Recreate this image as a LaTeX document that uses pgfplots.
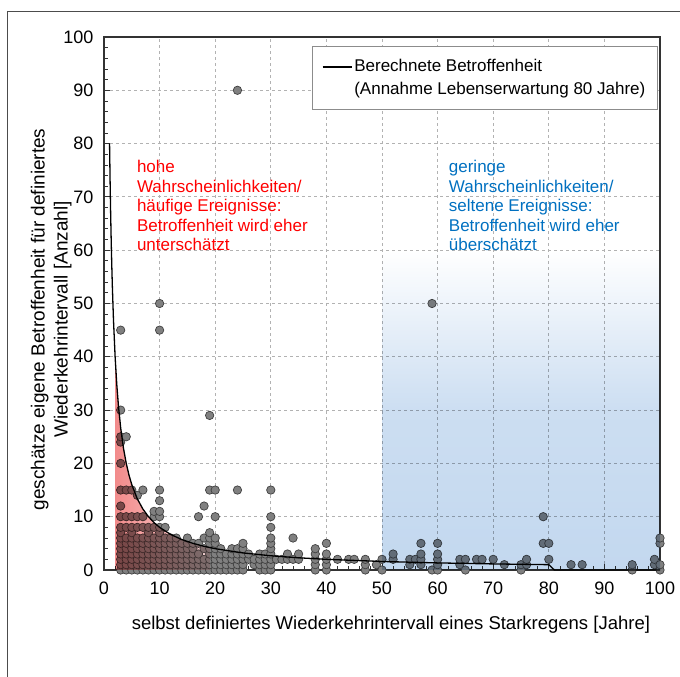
\documentclass[border=0pt]{standalone}
\usepackage{fontspec}
\setmainfont{Liberation Sans}
\usepackage{pgfplots}
\usepackage{pgfplotstable}
\pgfplotsset{compat=1.18}

\definecolor{bluefill}{HTML}{C3D8EF}
\definecolor{pinkL}{HTML}{F28B8B}
\definecolor{pinkR}{HTML}{FCDCDC}
\definecolor{ptgray}{HTML}{808080}
\definecolor{anred}{HTML}{FF0000}
\definecolor{anblue}{HTML}{0070C0}

% Befragung: selbst definiertes Intervall vs. geschaetzte Betroffenheit
\pgfplotstableread{
x y
3 0
3 1
3 2
3 3
3 4
3 5
3 6
3 7
3 8
3 10
3 12
3 15
3 20
3 24
3 25
3 30
3 45
4 0
4 1
4 2
4 3
4 4
4 5
4 6
4 8
4 10
4 15
4 25
5 0
5 1
5 2
5 3
5 4
5 5
5 6
5 7
5 8
5 10
5 15
6 0
6 1
6 2
6 3
6 4
6 5
6 6
6 8
6 10
6 14
7 0
7 1
7 2
7 3
7 4
7 5
7 6
7 8
7 10
7 15
8 0
8 1
8 2
8 3
8 4
8 5
8 6
8 7
8 8
9 0
9 1
9 2
9 3
9 4
9 5
9 6
9 8
9 10
9 11
10 0
10 1
10 2
10 3
10 4
10 5
10 6
10 7
10 8
10 10
10 11
10 13
10 15
10 45
10 50
11 0
11 1
11 2
11 3
11 4
11 5
11 6
11 8
12 0
12 1
12 2
12 3
12 4
12 5
12 6
13 0
13 1
13 2
13 3
13 4
13 5
13 6
14 0
14 1
14 2
14 3
14 4
14 5
15 0
15 1
15 2
15 3
15 4
15 5
15 6
16 0
16 1
16 2
16 3
16 4
16 5
17 0
17 1
17 2
17 3
17 5
17 10
18 0
18 1
18 2
18 4
18 6
18 12
19 0
19 1
19 2
19 3
19 4
19 5
19 6
19 7
19 15
19 29
20 0
20 1
20 2
20 3
20 4
20 5
20 6
20 10
20 15
21 0
21 1
21 2
21 3
21 4
22 0
22 1
22 2
22 3
23 0
23 1
23 2
23 3
23 4
24 0
24 1
24 2
24 3
24 4
24 15
24 90
25 0
25 1
25 2
25 3
25 4
25 5
26 2
26 3
27 1
27 2
28 0
28 1
28 2
28 3
29 0
29 1
29 2
29 3
30 0
30 1
30 2
30 3
30 4
30 5
30 6
30 8
30 10
30 15
31 2
32 2
33 2
33 3
34 2
34 6
35 2
35 3
38 0
38 1
38 2
38 3
38 4
40 0
40 1
40 2
40 3
40 5
42 2
44 2
45 2
47 0
47 1
47 2
49 1
50 0
50 2
52 2
52 3
55 1
55 2
56 2
57 1
57 2
57 3
57 5
59 0
59 50
60 0
60 1
60 2
60 3
60 5
64 1
64 2
65 0
65 2
67 2
68 2
70 2
72 1
75 0
75 1
76 1
76 2
79 5
79 10
80 2
80 5
84 1
86 1
95 0
95 1
99 1
99 2
100 0
100 1
100 5
100 6
}\pts

\begin{document}
\begin{tikzpicture}
\path[use as bounding box] (-104pt,-107pt) rectangle (576pt,570pt);
\begin{axis}[
    at={(0pt,0pt)}, anchor=south west,
    width=556pt, height=533pt, scale only axis,
    xmin=0, xmax=100, ymin=0, ymax=100,
    clip=false, clip marker paths=true,
    xtick={0,10,...,100}, ytick={0,10,...,100},
    minor x tick num=4, minor y tick num=4,
    tick align=inside, xtick pos=bottom, ytick pos=left,
    major tick length=6pt, minor tick length=4pt,
    grid=major,
    major grid style={dash pattern=on 3pt off 3pt, black!30, line width=0.8pt},
    axis line style={black!80, line width=1.1pt},
    tick style={black!80, line width=0.8pt},
    ticklabel style={font=\fontsize{18}{21}\selectfont},
    xticklabel style={yshift=-8pt},
    yticklabel style={xshift=-7pt},
    /pgf/number format/assume math mode=true,
    xlabel={selbst definiertes Wiederkehrintervall eines Starkregens [Jahre]},
    xlabel style={font=\fontsize{18.5}{22}\selectfont, at={(axis description cs:0.516,-0.103)}, anchor=center},
    ylabel={geschätze eigene Betroffenheit für definiertes\\Wiederkehrintervall [Anzahl]},
    ylabel style={font=\fontsize{19}{23}\selectfont, align=center, at={(axis description cs:-0.095,0.47)}, anchor=center},
    legend cell align=left,
    legend style={at={(0.996,0.983)}, anchor=north east, draw=black!45, line width=0.8pt,
        font=\fontsize{17}{23}\selectfont, nodes={align=left}, inner xsep=10pt, inner ysep=11pt},
    legend image code/.code={\draw[#1] (0pt,11pt) -- (29pt,11pt);},
]
\addplot[only marks, mark=*, mark size=4.2pt,
    mark options={fill=ptgray, draw=black!75, line width=0.7pt}, forget plot]
    table[x=x, y=y] {\pts};

\addplot[draw=none, left color=pinkL, right color=pinkR, blend mode=multiply, forget plot]
    coordinates {(2,40) (2.3,34.78) (2.6,30.77) (3,26.67) (3.5,22.86) (4,20) (4.5,17.78)
    (5,16) (6,13.33) (7,11.43) (8,10) (9,8.89) (10,8) (12,6.67) (14,5.71) (16,5)
    (18,4.44) (19,4.21)} \closedcycle;

\addplot[draw=none, top color=white, bottom color=bluefill, middle color=bluefill!85,
    blend mode=multiply, forget plot]
    coordinates {(50,60) (100,60)} \closedcycle;

\addplot[black, line width=1.3pt] coordinates {
    (1,80) (1.1,72.73) (1.2,66.67) (1.3,61.54) (1.4,57.14) (1.5,53.33) (1.7,47.06)
    (2,40) (2.3,34.78) (2.6,30.77) (3,26.67) (3.5,22.86) (4,20) (4.5,17.78) (5,16)
    (6,13.33) (7,11.43) (8,10) (9,8.89) (10,8) (12,6.67) (14,5.71) (16,5) (18,4.44)
    (20,4) (25,3.2) (30,2.67) (35,2.29) (40,2) (50,1.6) (60,1.33) (70,1.14) (80,1)
    (81,0) (100,0)};
\addlegendentry{Berechnete Betroffenheit\\(Annahme Lebenserwartung 80 Jahre)}

\node[anchor=north west, inner sep=0pt, align=left, text=anred,
    font=\fontsize{17}{19.5}\selectfont] at (axis cs:5.9,76.9)
    {hohe\\Wahrscheinlichkeiten/\\häufige Ereignisse:\\Betroffenheit wird eher\\unterschätzt};
\node[anchor=north west, inner sep=0pt, align=left, text=anblue,
    font=\fontsize{17}{19.5}\selectfont] at (axis cs:62.0,76.9)
    {geringe\\Wahrscheinlichkeiten/\\seltene Ereignisse:\\Betroffenheit wird eher\\überschätzt};
\end{axis}
\draw[black!70, line width=1pt] (-96pt,-110pt) -- (-96pt,558pt) -- (580pt,558pt);
\end{tikzpicture}
\end{document}
